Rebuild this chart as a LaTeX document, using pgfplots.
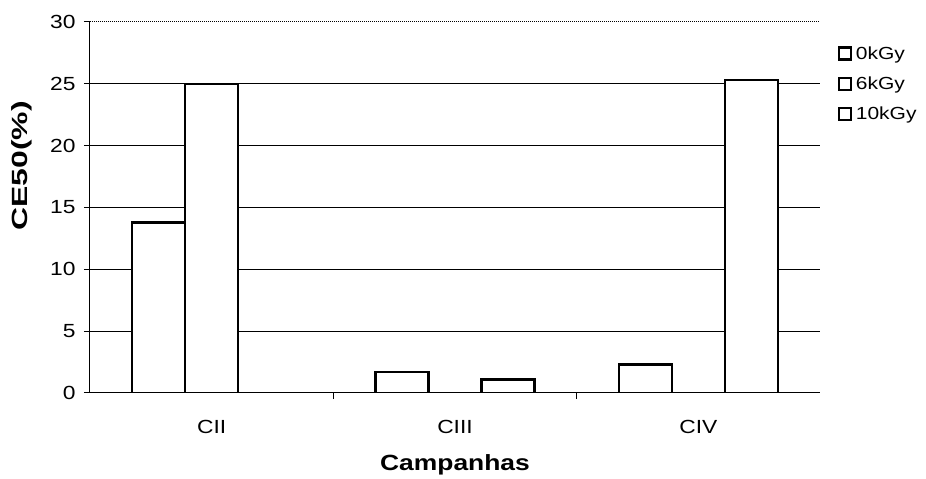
\documentclass[border=0pt]{standalone}
\usepackage{pgfplots}
\pgfplotsset{compat=1.18}
\usepackage{fontspec}
\setmainfont[FakeStretch=1.2]{Liberation Sans}
\newfontfamily\ylabfont[FakeStretch=1.45]{Liberation Sans}
\begin{document}
\begin{tikzpicture}
\begin{axis}[
  scale only axis, width=730pt, height=371pt,
  xmin=-0.5, xmax=2.5, ymin=0, ymax=30,
  axis x line=bottom, axis y line=left,
  axis line style={-, line width=1pt, black},
  tick align=outside,
  major tick length=6pt,
  tick style={black, line width=1pt},
  ytick={0,5,...,25},
  extra y ticks={30},
  extra y tick style={grid style={densely dotted, line width=1pt, black}},
  ymajorgrids,
  grid style={line width=1pt, black},
  xtick={0.5,1.5}, xticklabels={},
  extra x ticks={0,1,2},
  extra x tick labels={CII,CIII,CIV},
  extra x tick style={major tick length=0pt, xticklabel style={yshift=-24pt}},
  /pgf/number format/assume math mode=true,
  tick label style={font=\fontsize{19}{22}\selectfont},
  yticklabel style={xshift=-5pt},
  xlabel={\textbf{Campanhas}},
  ylabel={\ylabfont\bfseries CE50(\%)},
  label style={font=\fontsize{22}{26}\selectfont},
  xlabel style={at={(axis description cs:0.5,-0.194)}, anchor=center},
  ylabel style={at={(axis description cs:-0.093,0.612)}, anchor=center, rotate=0},
  legend style={at={(axis description cs:1.024,0.94)}, anchor=north west,
    draw=none, fill=none, font=\fontsize{17.5}{20}\selectfont, row sep=12pt,
    inner sep=0pt},
  legend cell align=left,
  legend image code/.code={\draw[line width=2.2pt, draw=black, fill=white] (0pt,-6pt) rectangle (12pt,6pt); \path[draw=none, fill=none] (0pt,0pt) rectangle (15pt,0pt);},
]
\addplot[ybar, bar width=0.218, bar shift=-0.218, draw=black, fill=white, line width=2.4pt]
  coordinates {(0,13.8) (1,1.7) (2,2.3)};
\addlegendentry{0kGy}
\addplot[ybar, bar width=0.218, bar shift=0, draw=black, fill=white, line width=2.4pt]
  coordinates {(0,25.0)};
\addlegendentry{6kGy}
\addplot[ybar, bar width=0.218, bar shift=0.218, draw=black, fill=white, line width=2.4pt]
  coordinates {(1,1.1) (2,25.3)};
\addlegendentry{10kGy}
\end{axis}
\path (current axis.south west) ++(-90pt,-84pt) rectangle ++(926pt,477pt);
\end{tikzpicture}
\end{document}
